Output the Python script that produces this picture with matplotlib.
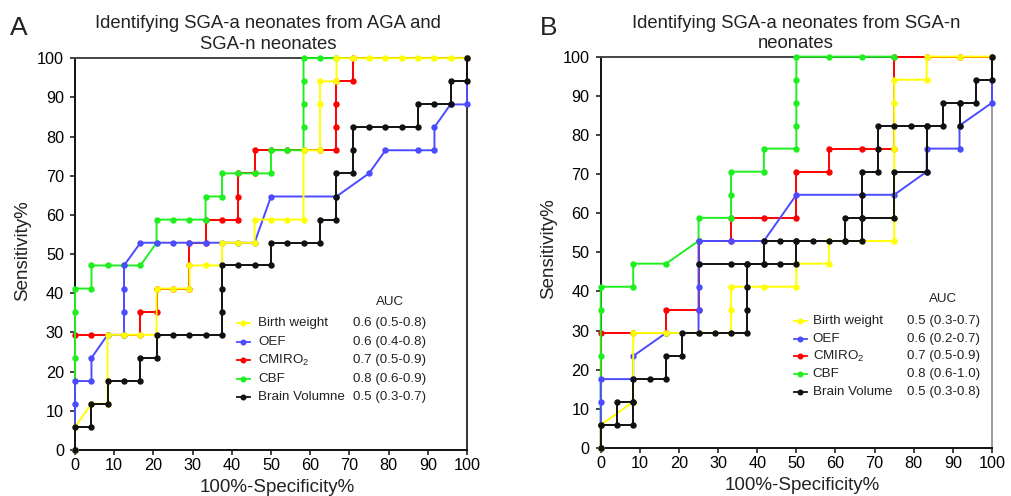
import numpy as np
import matplotlib
matplotlib.use("Agg")
import matplotlib.pyplot as plt

plt.rcParams['font.family'] = ['Liberation Sans', 'DejaVu Sans']
plt.rcParams['mathtext.fontset'] = 'custom'
plt.rcParams['mathtext.rm'] = 'Liberation Sans'
plt.rcParams['mathtext.it'] = 'Liberation Sans:italic'

nan = np.nan

# ---- panel A : SGA-a vs AGA + SGA-n  (x = 100%-specificity, y = sensitivity) ----
bw_a_x = [0, 0, 4.2, 8.3, 8.3, 8.3, 12.5, 16.7, 20.8, 20.8, 25, 29.2, 29.2, 33.3, 37.5, 37.5,
          41.7, 45.8, 45.8, 50, 54.2, 58.3, 58.3, 62.5, 62.5, 62.5, 66.7, 66.7, 70.8, 75, 79.2,
          83.3, 87.5, 91.7, 95.8, 100]
bw_a_y = [0, 5.9, 11.8, 11.8, 17.6, 29.4, 29.4, 29.4, 29.4, 41.2, 41.2, 41.2, 47.1, 47.1, 47.1, 52.9,
          52.9, 52.9, 58.8, 58.8, 58.8, 58.8, 76.5, 76.5, 88.2, 94.1, 94.1, 100, 100, 100, 100,
          100, 100, 100, 100, 100]

oef_a_x = [0, 0, 0, 4.2, 4.2, 8.3, 12.5, 12.5, 12.5, 12.5, 16.7, 20.8, 25, 29.2, 33.3, 37.5, 41.7,
           45.8, 50, 66.7, 75, 79.2, 87.5, 91.7, 91.7, 95.8, 100, 100]
oef_a_y = [0, 11.8, 17.6, 17.6, 23.5, 29.4, 29.4, 35.3, 41.2, 47.1, 52.9, 52.9, 52.9, 52.9, 52.9, 52.9,
           52.9, 52.9, 64.7, 64.7, 70.6, 76.5, 76.5, 76.5, 82.4, 88.2, 88.2, 100]

cmro2_a_x = [0, 0, 4.2, 8.3, 12.5, 16.7, 16.7, 20.8, 20.8, 25, 29.2, 29.2, 29.2, 33.3, 33.3, 37.5,
             41.7, 41.7, 41.7, 45.8, 45.8, 50, 54.2, 58.3, 62.5, 66.7, 66.7, 66.7, 66.7, 70.8, 70.8, 100]
cmro2_a_y = [0, 29.4, 29.4, 29.4, 29.4, 29.4, 35.3, 35.3, 41.2, 41.2, 41.2, 47.1, 52.9, 52.9, 58.8, 58.8,
             58.8, 64.7, 70.6, 70.6, 76.5, 76.5, 76.5, 76.5, 76.5, 76.5, 82.4, 88.2, 94.1, 94.1, 100, 100]

cbf_a_x = [0, 0, 0, 0, 4.2, 4.2, 8.3, 12.5, 16.7, 20.8, 20.8, 25, 29.2, 33.3, 33.3, 37.5, 37.5,
           41.7, 45.8, 50, 50, 54.2, 58.3, 58.3, 58.3, 58.3, 58.3, 62.5, 66.7]
cbf_a_y = [0, 23.5, 35.3, 41.2, 41.2, 47.1, 47.1, 47.1, 47.1, 52.9, 58.8, 58.8, 58.8, 58.8, 64.7, 64.7,
           70.6, 70.6, 70.6, 70.6, 76.5, 76.5, 76.5, 82.4, 88.2, 94.1, 100, 100, 100]

vol_a_x = [0, 0, 4.2, 4.2, 8.3, 8.3, 12.5, 16.7, 16.7, 20.8, 20.8, 25, 29.2, 33.3, 37.5, 37.5, 37.5,
           37.5, 41.7, 45.8, 50, 50, 54.2, 58.3, 62.5, 62.5, 66.7, 66.7, 66.7, 70.8, 70.8, 70.8, 75,
           79.2, 83.3, 87.5, 87.5, 91.7, 95.8, 95.8, 100, 100]
vol_a_y = [0, 5.9, 5.9, 11.8, 11.8, 17.6, 17.6, 17.6, 23.5, 23.5, 29.4, 29.4, 29.4, 29.4, 29.4, 35.3, 41.2,
           47.1, 47.1, 47.1, 47.1, 52.9, 52.9, 52.9, 52.9, 58.8, 58.8, 64.7, 70.6, 70.6, 76.5, 82.4, 82.4,
           82.4, 82.4, 82.4, 88.2, 88.2, 88.2, 94.1, 94.1, 100]

# ---- panel B : SGA-a vs SGA-n ----
bw_b_x = [0, 0, 8.3, 8.3, 16.7, 25, 33.3, 33.3, 33.3, 41.7, 50, 50, 58.3, 58.3, 66.7, 75, 75, 75,
          75, 75, 83.3, 83.3, 91.7, 100]
bw_b_y = [0, 5.9, 11.8, 29.4, 29.4, 29.4, 29.4, 35.3, 41.2, 41.2, 41.2, 47.1, 47.1, 52.9, 52.9, 52.9,
          58.8, 76.5, 88.2, 94.1, 94.1, 100, 100, 100]

oef_b_x = [0, 0, 0, 8.3, 8.3, 16.7, 25, 25, 25, 25, 25, 33.3, 41.7, 50, 66.7, 75, 83.3, 83.3, 91.7,
           91.7, 100, 100]
oef_b_y = [0, 11.8, 17.6, 17.6, 23.5, 29.4, 29.4, 35.3, 41.2, 47.1, 52.9, 52.9, 52.9, 64.7, 64.7, 64.7,
           70.6, 76.5, 76.5, 82.4, 88.2, 100]

cmro2_b_x = [0, 0, 8.3, 16.7, 16.7, 25, 25, 33.3, 33.3, 41.7, 50, 50, 58.3, 58.3, 66.7, 75, 75,
             83.3, 91.7, 100]
cmro2_b_y = [0, 29.4, 29.4, 29.4, 35.3, 35.3, 52.9, 52.9, 58.8, 58.8, 58.8, 70.6, 70.6, 76.5, 76.5,
             76.5, 100, 100, 100, 100]

cbf_b_x = [0, 0, 0, 0, 8.3, 8.3, 16.7, 25, 25, 33.3, 33.3, 33.3, 41.7, 41.7, 50, 50, 50, 50, 50,
           58.3, 66.7, 75]
cbf_b_y = [0, 23.5, 35.3, 41.2, 41.2, 47.1, 47.1, 52.9, 58.8, 58.8, 64.7, 70.6, 70.6, 76.5, 76.5,
           82.4, 88.2, 94.1, 100, 100, 100, 100]

vol_b_x = [0, 0, 4.2, 4.2, 8.3, 8.3, 12.5, 16.7, 16.7, 20.8, 20.8, 25, 29.2, 33.3, 37.5, 37.5, 37.5,
           37.5, 41.7, 41.7, 45.8, 50, 54.2, 58.3, 62.5, 66.7, 66.7, 66.7, 66.7, 70.8, 70.8, 70.8, 75,
           79.2, 83.3, 87.5, 87.5, 91.7, 95.8, 95.8, 100, 100]
vol_b_y = [0, 5.9, 5.9, 11.8, 11.8, 17.6, 17.6, 17.6, 23.5, 23.5, 29.4, 29.4, 29.4, 29.4, 29.4, 35.3,
           41.2, 47.1, 47.1, 52.9, 52.9, 52.9, 52.9, 52.9, 52.9, 52.9, 58.8, 64.7, 70.6, 70.6, 76.5,
           82.4, 82.4, 82.4, 82.4, 82.4, 88.2, 88.2, 88.2, 94.1, 94.1, 100]
# second black trace that shows in panel B (overlapping steps)
vol_b2_x = [0, 8.3, 8.3, nan, 25, 33.3, 37.5, 41.7, 45.8, 50, 50, nan, 62.5, 62.5, 66.7, 75, 75,
            83.3, 83.3, nan, 91.7, 91.7]
vol_b2_y = [5.9, 5.9, 11.8, nan, 47.1, 47.1, 47.1, 47.1, 47.1, 47.1, 52.9, nan, 52.9, 58.8, 58.8,
            58.8, 70.6, 70.6, 82.4, nan, 82.4, 88.2]

labels_a = ['Birth weight', 'OEF', 'CMIRO$_2$', 'CBF', 'Brain Volumne']
labels_b = ['Birth weight', 'OEF', 'CMIRO$_2$', 'CBF', 'Brain Volume']
auc_a = ['0.6 (0.5-0.8)', '0.6 (0.4-0.8)', '0.7 (0.5-0.9)', '0.8 (0.6-0.9)', '0.5 (0.3-0.7)']
auc_b = ['0.5 (0.3-0.7)', '0.6 (0.2-0.7)', '0.7 (0.5-0.9)', '0.8 (0.6-1.0)', '0.5 (0.3-0.8)']

colors = ['#ffff00', '#4b4bff', '#ff0000', '#1fef1f', '#111111']
zorders = [6, 5, 3, 4, 7]
LW, MS = 1.4, 3.6


def draw_panel(ax, curves, extra, labels, aucs, title, title_x, title_y, leg):
    for (x, y), c, z in zip(curves, colors, zorders):
        ax.plot(x, y, color=c, lw=LW, marker='o', ms=MS, mec=c, zorder=z, clip_on=False)
    if extra is not None:
        ax.plot(extra[0], extra[1], color=colors[4], lw=LW, marker='o', ms=MS,
                zorder=zorders[4], clip_on=False)

    ax.set_xlim(0, 100)
    ax.set_ylim(0, 100)
    ax.set_xticks(np.arange(0, 101, 10))
    ax.set_yticks(np.arange(0, 101, 10))
    ax.tick_params(labelsize=11.7, length=3.5, width=1.2, direction='out', color='#222222')
    ax.tick_params(axis='y', pad=4.5)
    ax.tick_params(axis='x', pad=2.5)

    ax.set_xlabel('100%-Specificity%', fontsize=13.5, color='#222222')
    ax.set_ylabel('Sensitivity%', fontsize=13.5, color='#222222')
    ax.xaxis.set_label_coords(0.515, -0.074)
    ax.yaxis.set_label_coords(-0.112, 0.51)

    # va='baseline' on a two-line text pins the baseline of the last line
    ax.text(title_x, title_y, title, transform=ax.transAxes, ha='center', va='baseline',
            fontsize=13.3, color='#222222', linespacing=1.25)

    x0, x1, tx, vx, ax_auc, ay_auc, rows = leg
    ax.text(ax_auc, ay_auc, 'AUC', transform=ax.transAxes, ha='center', va='center',
            fontsize=9.6, color='#222222')
    for lab, val, c, ry in zip(labels, aucs, colors, rows):
        ax.plot([x0, x1], [ry, ry], transform=ax.transAxes, color=c, lw=1.3, clip_on=False)
        ax.plot([(x0 + x1) / 2], [ry], transform=ax.transAxes, color=c, marker='o', ms=3.3,
                clip_on=False)
        ax.text(tx, ry, lab, transform=ax.transAxes, ha='left', va='center', fontsize=9.6,
                color='#222222')
        ax.text(vx, ry, val, transform=ax.transAxes, ha='left', va='center', fontsize=9.6,
                color='#222222')


fig = plt.figure(figsize=(10.11, 4.96), dpi=100)
ax_a = fig.add_axes([0.0742, 0.0927, 0.3877, 0.790])
ax_b = fig.add_axes([0.5942, 0.0968, 0.3870, 0.789])

curves_a = [(bw_a_x, bw_a_y), (oef_a_x, oef_a_y), (cmro2_a_x, cmro2_a_y),
            (cbf_a_x, cbf_a_y), (vol_a_x, vol_a_y)]
curves_b = [(bw_b_x, bw_b_y), (oef_b_x, oef_b_y), (cmro2_b_x, cmro2_b_y),
            (cbf_b_x, cbf_b_y), (vol_b_x, vol_b_y)]

rows_a = [0.324 - 0.0473 * i for i in range(5)]
rows_b = [0.3244 - 0.0452 * i for i in range(5)]

draw_panel(ax_a, curves_a, None, labels_a, auc_a,
           'Identifying SGA-a neonates from AGA and\nSGA-n neonates', 0.492, 1.0247,
           (0.4125, 0.4464, 0.4676, 0.708, 0.8036, 0.378, rows_a))
draw_panel(ax_b, curves_b, (vol_b2_x, vol_b2_y), labels_b, auc_b,
           'Identifying SGA-a neonates from SGA-n\nneonates', 0.499, 1.021,
           (0.494, 0.527, 0.542, 0.7835, 0.8755, 0.38, rows_b))

for ax, right_col in ((ax_a, '#111111'), (ax_b, '#8a8a8a')):
    for side in ('left', 'bottom'):
        ax.spines[side].set_color('#111111')
        ax.spines[side].set_linewidth(1.4)
    ax.spines['top'].set_color('#444444')
    ax.spines['top'].set_linewidth(1.4)
    ax.spines['right'].set_color(right_col)
    ax.spines['right'].set_linewidth(1.2)

fig.text(0.0099, 0.929, 'A', fontsize=19, va='baseline', ha='left', color='#222222')
fig.text(0.534, 0.929, 'B', fontsize=19, va='baseline', ha='left', color='#222222')

fig.savefig('out.png', dpi=100)
